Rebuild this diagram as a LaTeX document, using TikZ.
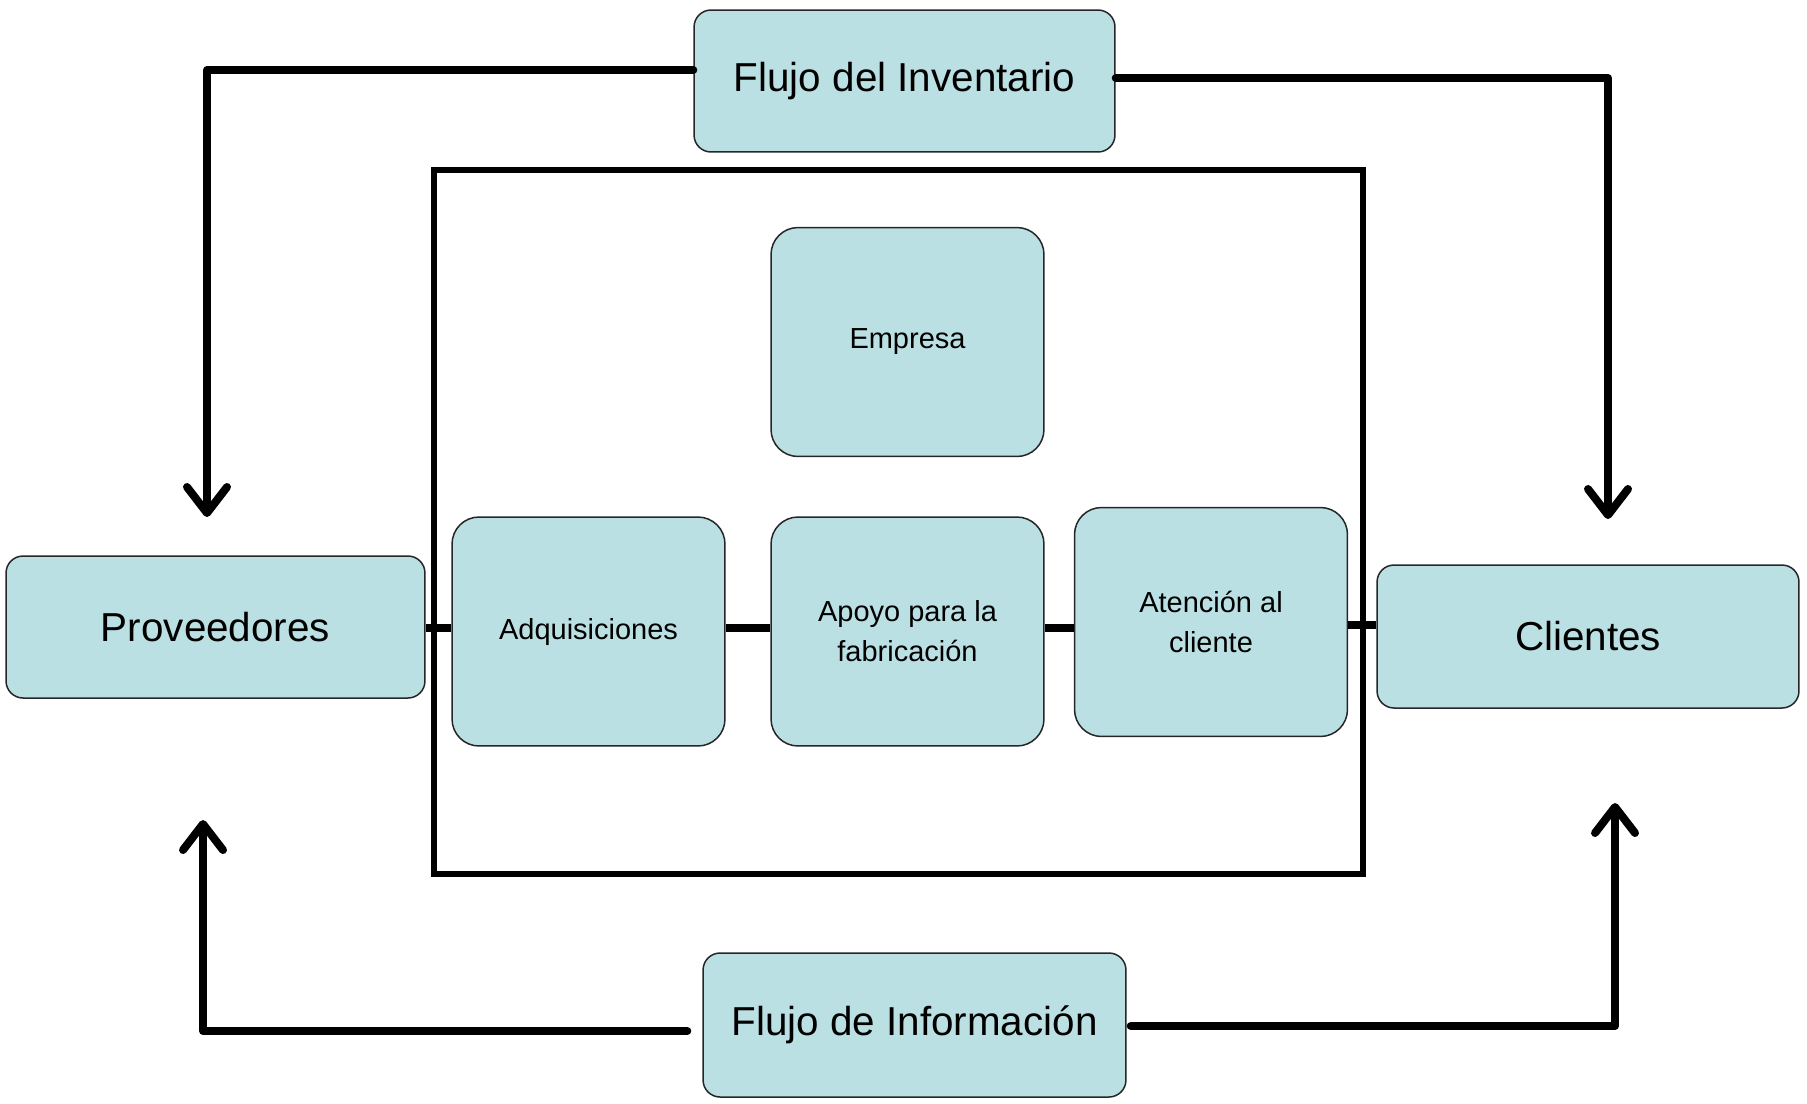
\documentclass[tikz,border=0pt]{standalone}
\usepackage{fontspec}
\setmainfont{Liberation Sans}
\usetikzlibrary{arrows.meta}
\definecolor{boxfill}{RGB}{187,224,227}
\tikzset{
  bigbox/.style={draw=black!85, line width=0.03cm, fill=boxfill, rounded corners=0.34cm,
    inner sep=0pt, align=center, font=\fontsize{23}{27}\selectfont},
  smallbox/.style={draw=black!85, line width=0.03cm, fill=boxfill, rounded corners=0.54cm,
    inner sep=0pt, align=center, minimum width=5.46cm, minimum height=4.58cm,
    font=\fontsize{16.5}{22.7}\selectfont},
  flow/.style={line width=0.16cm, line join=round, line cap=round,
    -{Straight Barb[length=0.52cm,width=0.8cm,round]}},
  link/.style={line width=0.16cm},
  frame/.style={line width=0.12cm}
}
\begin{document}
\begin{tikzpicture}[x=0.02cm,y=-0.02cm]
\useasboundingbox (0,0) rectangle (1807,1103);
% big frame
\draw[frame] (434,170) rectangle (1363,874);
% top and bottom flow boxes
\node[bigbox, minimum width=8.42cm, minimum height=2.84cm] (inv) at (904.5,81) {Flujo del Inventario};
\node[bigbox, minimum width=8.46cm, minimum height=2.88cm] (info) at (914.5,1025) {Flujo de Información};
% side boxes
\node[bigbox, minimum width=8.38cm, minimum height=2.84cm] (prov) at (215.5,627) {Proveedores};
\node[bigbox, minimum width=8.44cm, minimum height=2.86cm] (cli) at (1588,636.5) {Clientes};
% inner boxes
\node[smallbox] (emp) at (907.5,342) {Empresa};
\node[smallbox] (adq) at (588.5,631.5) {Adquisiciones};
\node[smallbox] (apo) at (907.5,631.5) {Apoyo para la\\fabricación};
\node[smallbox] (ate) at (1211,622) {Atención al\\cliente};
% links
\draw[link] (prov.east |- 0,628) -- (adq.west |- 0,628);
\draw[link] (adq.east |- 0,628) -- (apo.west |- 0,628);
\draw[link] (apo.east |- 0,628) -- (ate.west |- 0,628);
\draw[link] (ate.east |- 0,625) -- (cli.west |- 0,625);
% flow arrows
\coordinate (provT) at (207,517);
\coordinate (cliT) at (1608,519);
\coordinate (provB) at (203,820);
\coordinate (cliB) at (1615,803);
\draw[flow] (inv.west |- 0,70) -| (provT);
\draw[flow] (inv.east |- 0,78) -| (cliT);
\draw[flow, shorten <=0.3cm] (info.west |- 0,1031) -| (provB);
\draw[flow, shorten <=0.08cm] (info.east |- 0,1026) -| (cliB);
\end{tikzpicture}
\end{document}
